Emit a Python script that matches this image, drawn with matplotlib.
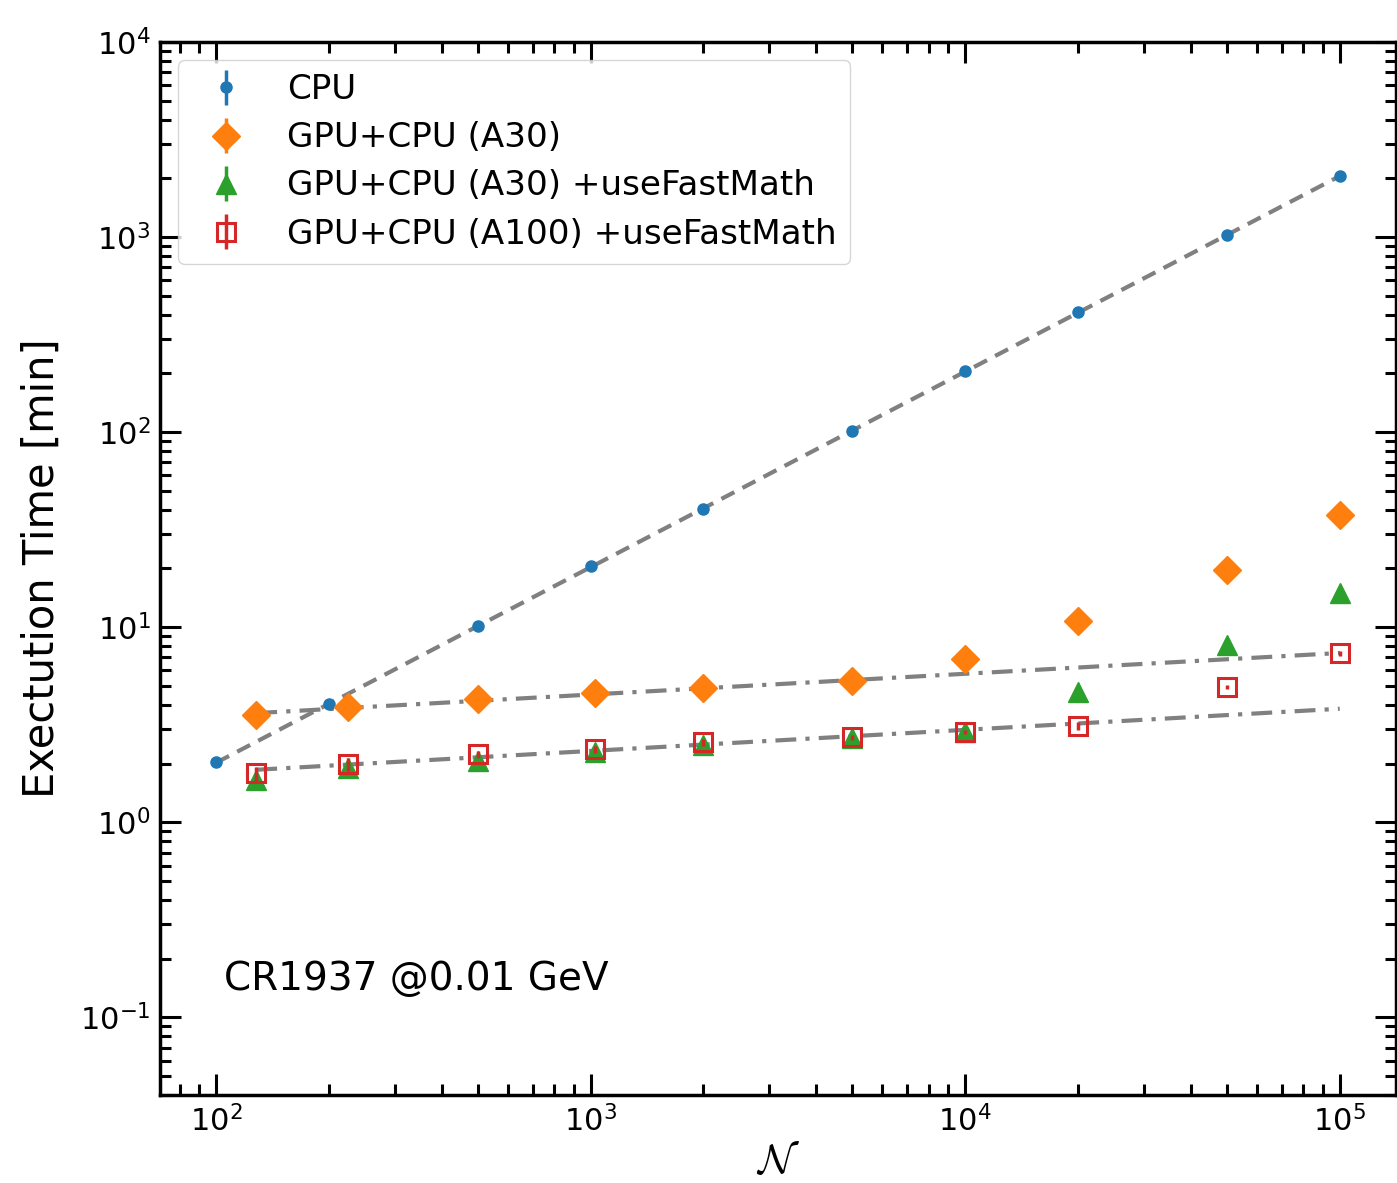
import numpy as np
import matplotlib
matplotlib.use("Agg")
import matplotlib.pyplot as plt

# problem sizes (N) and execution times in minutes
n_cpu = [100, 200, 500, 1000, 2000, 5000, 10000, 20000, 50000, 100000]
t_cpu = [2.03, 4.03, 10.1, 20.6, 40.3, 101, 205, 412, 1024, 2055]
e_cpu = [0.05, 0.08, 0.2, 0.4, 0.8, 2, 4, 8, 20, 40]

n_gpu = [128, 225, 500, 1024, 2000, 5000, 10000, 20000, 50000, 100000]
t_a30 = [3.54, 3.89, 4.27, 4.59, 4.86, 5.28, 6.85, 10.7, 19.6, 37.5]
e_a30 = [0.1, 0.1, 0.1, 0.1, 0.1, 0.1, 0.1, 0.2, 0.3, 0.5]
t_a30_fm = [1.64, 1.89, 2.05, 2.29, 2.48, 2.70, 2.90, 4.64, 8.09, 14.9]
e_a30_fm = [0.1, 0.08, 0.05, 0.05, 0.05, 0.05, 0.05, 0.1, 0.1, 0.2]
t_a100_fm = [1.78, 1.98, 2.23, 2.37, 2.57, 2.73, 2.90, 3.11, 4.92, 7.36]
e_a100_fm = [0.15, 0.15, 0.1, 0.1, 0.1, 0.08, 0.06, 0.15, 0.12, 0.2]

labels = ["CPU", "GPU+CPU (A30)", "GPU+CPU (A30) +useFastMath",
          "GPU+CPU (A100) +useFastMath"]

plt.rcParams['font.family'] = ['DejaVu Sans']
plt.rcParams['mathtext.fontset'] = 'cm'

fig = plt.figure(figsize=(13.97, 11.83), dpi=100)
ax = fig.add_axes([0.1145, 0.0744, 0.8845, 0.8901])


def powerfit(x, y, k):
    # straight line in log-log space over the first k points
    p = np.polyfit(np.log10(x[:k]), np.log10(y[:k]), 1)
    xs = np.array([x[0], x[-1]], dtype=float)
    return xs, 10 ** np.polyval(p, np.log10(xs))


xs, ys = powerfit(n_cpu, t_cpu, len(n_cpu))
ax.plot(xs, ys, ls=(0, (3.5, 2.2)), color='gray', lw=3, zorder=1)
xs, ys = powerfit(n_gpu, t_a30, 6)
ax.plot(xs, ys, ls=(0, (5, 2.2, 1, 2.2)), color='gray', lw=3, zorder=1)
xs, ys = powerfit(n_gpu, t_a100_fm, 7)
ax.plot(xs, ys, ls=(0, (5, 2.2, 1, 2.2)), color='gray', lw=3, zorder=1)

ax.errorbar(n_cpu, t_cpu, yerr=e_cpu, fmt='o', color='C0', ms=8,
            elinewidth=2.5, label=labels[0], zorder=3)
ax.errorbar(n_gpu, t_a30, yerr=e_a30, fmt='D', color='C1', ms=14,
            elinewidth=2.5, label=labels[1], zorder=3)
ax.errorbar(n_gpu, t_a30_fm, yerr=e_a30_fm, fmt='^', color='C2', ms=14,
            elinewidth=2.5, label=labels[2], zorder=3)
ax.errorbar(n_gpu, t_a100_fm, yerr=e_a100_fm, fmt='s', color='C3', ms=13,
            mfc='none', mew=2.2, elinewidth=2.5, label=labels[3], zorder=4)

ax.set_xscale('log')
ax.set_yscale('log')
ax.set_xlim(70.8, 141000)
ax.set_ylim(0.04, 1e4)

ax.tick_params(which='both', direction='in', top=True, right=True,
               labelsize=22, pad=7)
ax.tick_params(which='major', length=15, width=2.2)
ax.tick_params(which='minor', length=8, width=2.2)
for s in ax.spines.values():
    s.set_linewidth(2.5)

ax.set_xlabel(r'$\mathcal{N}$', fontsize=30, labelpad=2)
ax.set_ylabel('Exectution Time [min]', fontsize=30, labelpad=12)

ax.text(0.052, 0.1, 'CR1937 @0.01 GeV', transform=ax.transAxes,
        fontsize=28, va='baseline')

ax.legend(loc='upper left', fontsize=24.6, borderpad=0.4,
          labelspacing=0.44, borderaxespad=0.52)

fig.savefig('out.png', dpi=100)
